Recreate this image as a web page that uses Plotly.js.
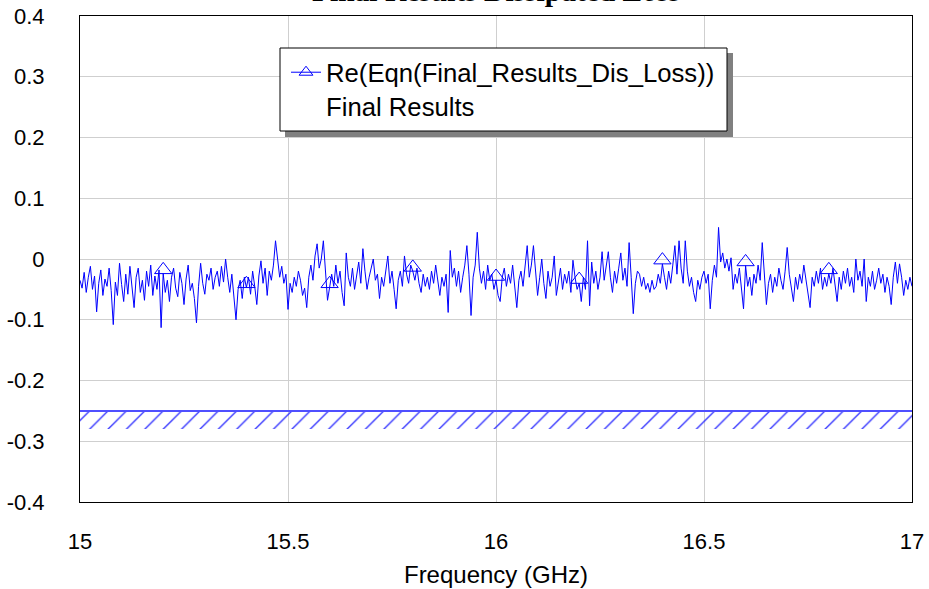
<!DOCTYPE html>
<html>
<head>
<meta charset="utf-8">
<script src="https://cdn.plot.ly/plotly-3.0.1.min.js"></script>
<style>html,body{margin:0;padding:0;background:#fff;}#chart{width:929px;height:589px;}</style>
</head>
<body>
<div id="chart"></div>
<script>
// ---- data ----
const freqStart = 15.0;   // GHz
const freqStop = 17.0;    // GHz
const disLoss = [
-0.035,-0.048,-0.022,-0.055,-0.030,-0.012,-0.050,-0.028,-0.087,-0.040,-0.018,-0.060,-0.033,-0.045,-0.015,-0.052,-0.108,-0.038,-0.060,-0.007,
-0.042,-0.070,-0.025,-0.058,-0.012,-0.047,-0.080,-0.030,-0.015,-0.055,-0.035,-0.068,-0.020,-0.045,-0.010,-0.060,-0.028,-0.050,-0.018,-0.113,
-0.024,-0.055,-0.035,-0.070,-0.030,-0.015,-0.048,-0.062,-0.022,-0.040,-0.075,-0.033,-0.010,-0.052,-0.040,-0.065,-0.105,-0.045,-0.007,-0.040,
-0.058,-0.025,-0.035,-0.015,-0.050,-0.030,-0.020,-0.045,-0.012,-0.038,0.000,-0.030,-0.055,-0.025,-0.060,-0.100,-0.050,-0.035,-0.065,-0.030,
-0.047,-0.030,-0.058,-0.020,-0.045,-0.075,-0.028,-0.003,-0.040,-0.015,-0.060,-0.020,-0.035,-0.010,0.030,-0.005,-0.030,-0.012,-0.040,-0.025,
-0.083,-0.040,-0.055,-0.030,-0.045,-0.020,-0.035,-0.060,-0.048,-0.080,-0.030,-0.010,-0.035,0.005,0.025,-0.015,0.000,0.030,-0.020,-0.068,
-0.047,-0.025,-0.045,-0.010,-0.040,-0.020,-0.055,-0.077,0.010,-0.030,-0.045,-0.015,-0.050,-0.025,-0.005,-0.040,0.017,-0.020,-0.050,-0.030,
-0.015,0.000,-0.035,-0.025,-0.065,-0.030,-0.045,-0.015,0.005,-0.040,-0.020,-0.050,-0.082,-0.035,-0.020,-0.045,0.005,-0.025,-0.040,-0.010,
-0.020,-0.035,-0.015,-0.040,-0.055,-0.025,-0.045,-0.030,-0.050,-0.020,-0.040,-0.010,-0.035,-0.060,-0.030,-0.045,-0.025,-0.088,0.014,-0.030,
-0.015,-0.045,-0.020,-0.055,-0.030,-0.010,0.022,-0.025,-0.093,-0.030,-0.010,0.044,-0.015,-0.040,-0.020,-0.050,-0.010,-0.035,-0.025,-0.050,
-0.035,-0.060,-0.070,-0.030,-0.015,-0.045,-0.025,-0.040,-0.010,-0.050,-0.080,-0.035,-0.020,-0.045,-0.015,0.022,-0.030,-0.010,0.022,-0.025,
-0.060,-0.030,0.000,-0.040,-0.065,-0.020,-0.045,-0.030,0.005,-0.060,-0.035,-0.015,-0.050,-0.025,-0.040,-0.020,-0.055,-0.002,-0.030,-0.050,
-0.040,-0.070,-0.030,-0.050,0.030,-0.077,-0.005,-0.040,-0.020,-0.050,-0.030,0.012,-0.035,-0.015,0.012,-0.030,-0.055,-0.020,-0.040,-0.015,
0.010,-0.035,-0.015,-0.045,0.027,-0.030,-0.090,-0.040,-0.020,-0.025,-0.045,-0.030,-0.050,-0.040,-0.055,-0.035,-0.050,-0.045,-0.025,-0.040,
-0.008,-0.030,-0.050,-0.020,-0.040,-0.010,0.022,-0.025,0.030,-0.015,-0.040,0.030,-0.020,-0.045,-0.030,-0.055,-0.070,-0.035,-0.050,-0.030,
-0.020,-0.040,-0.025,-0.082,-0.035,-0.010,-0.030,0.052,-0.005,0.010,-0.015,0.000,-0.020,0.002,-0.050,-0.025,-0.040,-0.015,-0.050,-0.082,
-0.011,-0.045,-0.030,-0.060,-0.025,-0.040,-0.010,-0.035,0.027,-0.020,-0.075,-0.040,-0.025,-0.055,-0.030,-0.045,-0.015,-0.035,-0.050,-0.020,
0.019,-0.025,-0.045,-0.070,-0.030,-0.050,-0.025,-0.040,-0.010,-0.035,-0.055,-0.080,-0.030,-0.045,-0.020,-0.040,-0.015,-0.050,-0.030,-0.045,
-0.024,-0.040,-0.015,-0.045,-0.070,-0.030,-0.050,-0.020,-0.040,-0.015,-0.045,-0.030,-0.055,0.000,-0.035,-0.020,-0.045,0.000,-0.070,-0.030,
-0.045,-0.020,-0.050,-0.035,-0.015,-0.040,-0.025,-0.055,-0.030,-0.045,-0.075,-0.030,-0.005,-0.040,-0.008,-0.030,-0.060,-0.035,-0.050,-0.030,
-0.045
];
const markerFreqs = [15.2, 15.4, 15.6, 15.8, 16.0, 16.2, 16.4, 16.6, 16.8];
const limitFreqs = [15.0, 17.0];
const limitUpper = [-0.25, -0.25];
const limitLower = [-0.28, -0.28];
const xTickVals = [15, 15.5, 16, 16.5, 17];
const xTickText = ['15', '15.5', '16', '16.5', '17'];
const yTickVals = [0.4, 0.3, 0.2, 0.1, 0, -0.1, -0.2, -0.3, -0.4];
const yTickText = ['0.4', '0.3', '0.2', '0.1', '0', '-0.1', '-0.2', '-0.3', '-0.4'];
const seriesName = 'Re(Eqn(Final_Results_Dis_Loss))<br>Final Results';
const chartTitle = 'Final Results Dissipated Loss';

// ---- build ----
const N = disLoss.length;
const freq = disLoss.map((_, i) => freqStart + i * (freqStop - freqStart) / (N - 1));
const markerY = markerFreqs.map(f => {
  const i = Math.round((f - freqStart) / (freqStop - freqStart) * (N - 1));
  return disLoss[i];
});

const W = 929, H = 589;
const M = {l: 80, r: 17, t: 16, b: 87};
const plotW = W - M.l - M.r;
const plotH = H - M.t - M.b;
const yMin = -0.4, yMax = 0.4;
const mSize = 15;
const markerLift = (mSize / 4) * (yMax - yMin) / plotH;
const px2x = p => (p - M.l) / plotW;
const px2y = p => (H - M.b - p) / plotH;

const blue = '#0000ff';
const traces = [
  {x: limitFreqs, y: limitLower, mode: 'lines', line: {width: 0, color: 'rgba(0,0,0,0)'},
   showlegend: false, hoverinfo: 'skip'},
  {x: limitFreqs, y: limitUpper, mode: 'lines', line: {width: 2, color: '#4f4fff'},
   fill: 'tonexty', fillcolor: 'rgba(0,0,0,0)',
   fillpattern: {shape: '/', fgcolor: '#2a2aff', bgcolor: 'rgba(255,255,255,0)', size: 13, solidity: 0.1},
   showlegend: false, hoverinfo: 'skip'},
  {x: freq, y: disLoss, mode: 'lines', line: {color: blue, width: 1}, showlegend: false},
  {x: markerFreqs, y: markerY.map(v => v + markerLift), mode: 'markers',
   marker: {symbol: 'triangle-up-open', size: mSize, color: blue, line: {width: 1, color: blue}},
   showlegend: false},
  {x: [null], y: [null], mode: 'lines+markers', name: seriesName,
   line: {color: blue, width: 1},
   marker: {symbol: 'triangle-up-open', size: 12, color: blue, line: {width: 1, color: blue}}}
];

const fontFam = '"Liberation Sans", Arial, sans-serif';
const layout = {
  width: W, height: H,
  margin: M,
  paper_bgcolor: '#ffffff', plot_bgcolor: '#ffffff',
  font: {family: fontFam, size: 22, color: '#000'},
  showlegend: true,
  xaxis: {
    range: [freqStart, freqStop], tickvals: xTickVals, ticktext: xTickText,
    showgrid: true, gridcolor: '#cfcfcf', gridwidth: 1, zeroline: false,
    showline: true, linecolor: '#000', linewidth: 1, mirror: true, ticks: '',
    ticklabelstandoff: 20, tickfont: {size: 22, family: fontFam},
    title: {text: 'Frequency (GHz)', font: {size: 24, family: fontFam}, standoff: 12}
  },
  yaxis: {
    range: [yMin, yMax], tickvals: yTickVals, ticktext: yTickText,
    showgrid: true, gridcolor: '#cfcfcf', gridwidth: 1, zeroline: false,
    showline: true, linecolor: '#000', linewidth: 1, mirror: true, ticks: '',
    ticklabelstandoff: 30, tickfont: {size: 22, family: fontFam}
  },
  legend: {
    x: px2x(286), y: px2y(49),
    xanchor: 'left', yanchor: 'top',
    bgcolor: 'rgba(0,0,0,0)', bordercolor: '#000', borderwidth: 0,
    font: {size: 25.7, family: fontFam, color: '#000'}, valign: 'top'
  },
  annotations: [{
    text: '<b>' + chartTitle + '</b>', xref: 'paper', yref: 'paper',
    x: 0.5, y: px2y(9), xanchor: 'center', yanchor: 'bottom',
    showarrow: false, font: {family: '"Liberation Serif", "Times New Roman", serif', size: 29.5, color: '#000'}
  }],
  shapes: [
    {type: 'rect', xref: 'paper', yref: 'paper', layer: 'above',
     x0: px2x(285), x1: px2x(733), y0: px2y(137), y1: px2y(53),
     fillcolor: '#808080', line: {width: 0}},
    {type: 'rect', xref: 'paper', yref: 'paper', layer: 'above',
     x0: px2x(280), x1: px2x(727), y0: px2y(131), y1: px2y(48),
     fillcolor: '#ffffff', line: {width: 1, color: '#000'}}
  ]
};

Plotly.newPlot('chart', traces, layout, {displayModeBar: false, staticPlot: true});
</script>
</body>
</html>
